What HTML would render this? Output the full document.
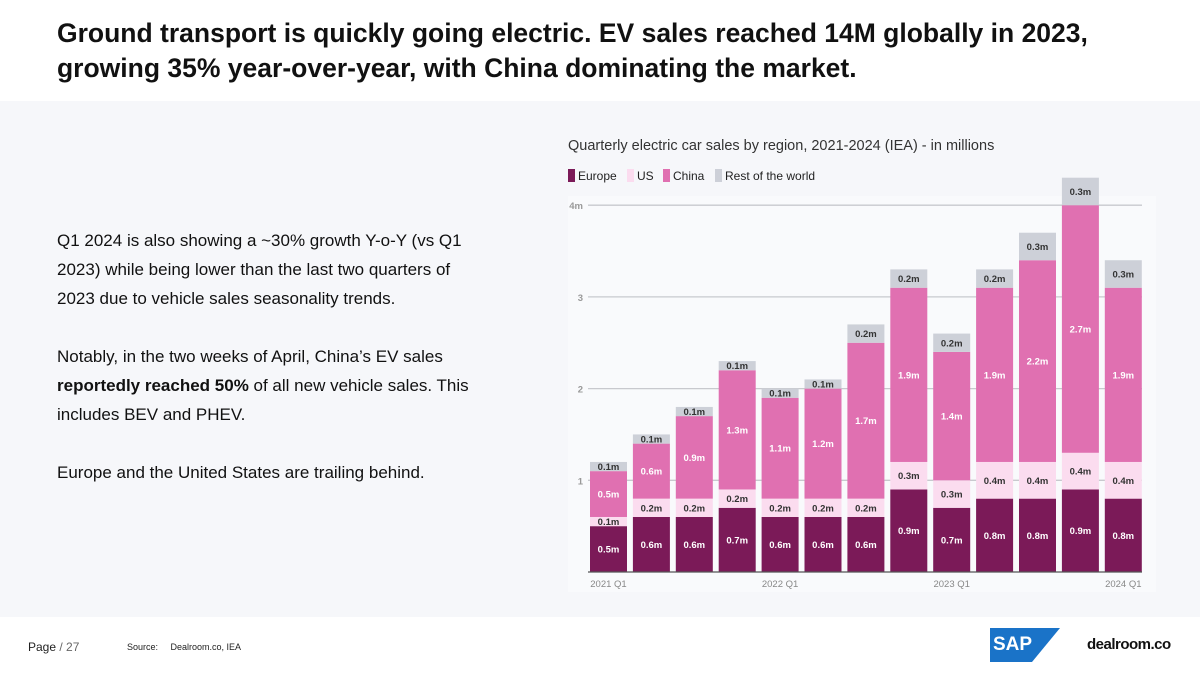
<!DOCTYPE html>
<html><head><meta charset="utf-8"><style>
body{margin:0;width:1200px;height:675px;overflow:hidden;background:#fff;font-family:"Liberation Sans",sans-serif;position:relative}
#title{position:absolute;left:57px;top:16px;font-size:26.5px;font-weight:bold;line-height:35px;color:#111;letter-spacing:0px;white-space:nowrap}
#panel{position:absolute;left:0;top:101px;width:1200px;height:516px;background:#f6f7fa}
#body{position:absolute;left:57px;top:226px;width:432px;font-size:17px;line-height:29px;color:#111}
#body p{margin:0 0 29px 0}
#ctitle{position:absolute;left:568px;top:138px;font-size:14.5px;color:#333}
.leg{position:absolute;top:169px;font-size:12px;color:#222}
.sw{display:inline-block;width:7px;height:13px;vertical-align:-2px;margin-right:3px}
#foot{position:absolute;top:640px;font-size:11px;color:#222}
</style></head><body>
<div id="title">Ground transport is quickly going electric. EV sales reached 14M globally in 2023,<br>growing 35% year-over-year, with China dominating the market.</div>
<div id="panel"></div>
<div id="body">
<p>Q1 2024 is also showing a ~30% growth Y-o-Y (vs Q1 2023) while being lower than the last two quarters of 2023 due to vehicle sales seasonality trends.</p>
<p>Notably, in the two weeks of April, China’s EV sales <b>reportedly reached 50%</b> of all new vehicle sales. This includes BEV and PHEV.</p>
<p>Europe and the United States are trailing behind.</p></div>
<div id="ctitle">Quarterly electric car sales by region, 2021-2024 (IEA) - in millions</div>
<div class="leg" style="left:568px"><span class="sw" style="background:#7b1a58"></span>Europe</div>
<div class="leg" style="left:627px"><span class="sw" style="background:#fbdcef"></span>US</div>
<div class="leg" style="left:663px"><span class="sw" style="background:#e070b1"></span>China</div>
<div class="leg" style="left:715px"><span class="sw" style="background:#cdd0d8"></span>Rest of the world</div>
<svg id="chart" width="1200" height="675" style="position:absolute;left:0;top:0" font-family="Liberation Sans, sans-serif"></svg>
<div id="foot" style="left:28px;font-size:12px"><b style="font-weight:normal">Page</b> <span style="color:#666">/ 27</span></div>
<div id="foot" style="left:127px;font-size:9px;top:642px">Source:&nbsp;&nbsp;&nbsp;&nbsp; Dealroom.co, IEA</div>
<div style="position:absolute;left:990px;top:628px;width:70px;height:34px;background:#1a73c8;clip-path:polygon(0 0,100% 0,60% 100%,0 100%);color:#fff;font-weight:bold;font-size:19px;line-height:34px;padding-left:3px;box-sizing:border-box">SAP</div>
<div style="position:absolute;left:1087px;top:636px;font-weight:bold;font-size:15px;color:#111;letter-spacing:-0.5px">dealroom.co</div>
<script>
const categories=["2021 Q1","2021 Q2","2021 Q3","2021 Q4","2022 Q1","2022 Q2","2022 Q3","2022 Q4","2023 Q1","2023 Q2","2023 Q3","2023 Q4","2024 Q1"];
const europe=[0.5,0.6,0.6,0.7,0.6,0.6,0.6,0.9,0.7,0.8,0.8,0.9,0.8];
const us=[0.1,0.2,0.2,0.2,0.2,0.2,0.2,0.3,0.3,0.4,0.4,0.4,0.4];
const china=[0.5,0.6,0.9,1.3,1.1,1.2,1.7,1.9,1.4,1.9,2.2,2.7,1.9];
const rest=[0.1,0.1,0.1,0.1,0.1,0.1,0.2,0.2,0.2,0.2,0.3,0.3,0.3];
const yTicks=[1,2,3,4];
const yTickLabels=["1","2","3","4m"];
const xTickLabels={0:"2021 Q1",4:"2022 Q1",8:"2023 Q1",12:"2024 Q1"};
const svg=document.getElementById('chart');const NS="http://www.w3.org/2000/svg";
const y0=572,pu=91.7,x0=590,pitch=42.9,bw=37;
const Y=v=>y0-v*pu, X=i=>x0+i*pitch;
function mk(t,a){const e=document.createElementNS(NS,t);for(const k in a)e.setAttribute(k,a[k]);svg.appendChild(e);return e;}
const bg=mk('rect',{x:568,y:196,width:588,height:396,fill:'#f9fafc'});


yTicks.forEach((v,i)=>{const l=mk('line',{x1:588,x2:1142,y1:Y(v),y2:Y(v),stroke:'#c8c9ce','stroke-width':1.3});


const t=mk('text',{x:583,y:Y(v)+4,'text-anchor':'end','font-size':9.5,fill:'#999','font-weight':'bold'});t.textContent=yTickLabels[i];

});
const series=[[europe,'#7b1a58','#fff'],[us,'#fbdcef','#333'],[china,'#e070b1','#fff'],[rest,'#cdd0d8','#333']];
categories.forEach((c,i)=>{let base=0;series.forEach(([arr,col,tc])=>{const v=arr[i];
const r=mk('rect',{x:X(i),y:Y(base+v),width:bw,height:v*pu,fill:col});


const t=mk('text',{x:X(i)+bw/2,y:Y(base+v/2)+3.5,'text-anchor':'middle','font-size':9.5,'font-weight':'bold',fill:tc});t.textContent=v.toFixed(1)+'m';


base+=v;});
if(xTickLabels[i]){const t=mk('text',{x:X(i)+bw/2,y:587,'text-anchor':'middle','font-size':9.5,fill:'#888'});t.textContent=xTickLabels[i];

}});
const ax=mk('line',{x1:588,x2:1142,y1:y0,y2:y0,stroke:'#555','stroke-width':1.2});


</script>
</body></html>
